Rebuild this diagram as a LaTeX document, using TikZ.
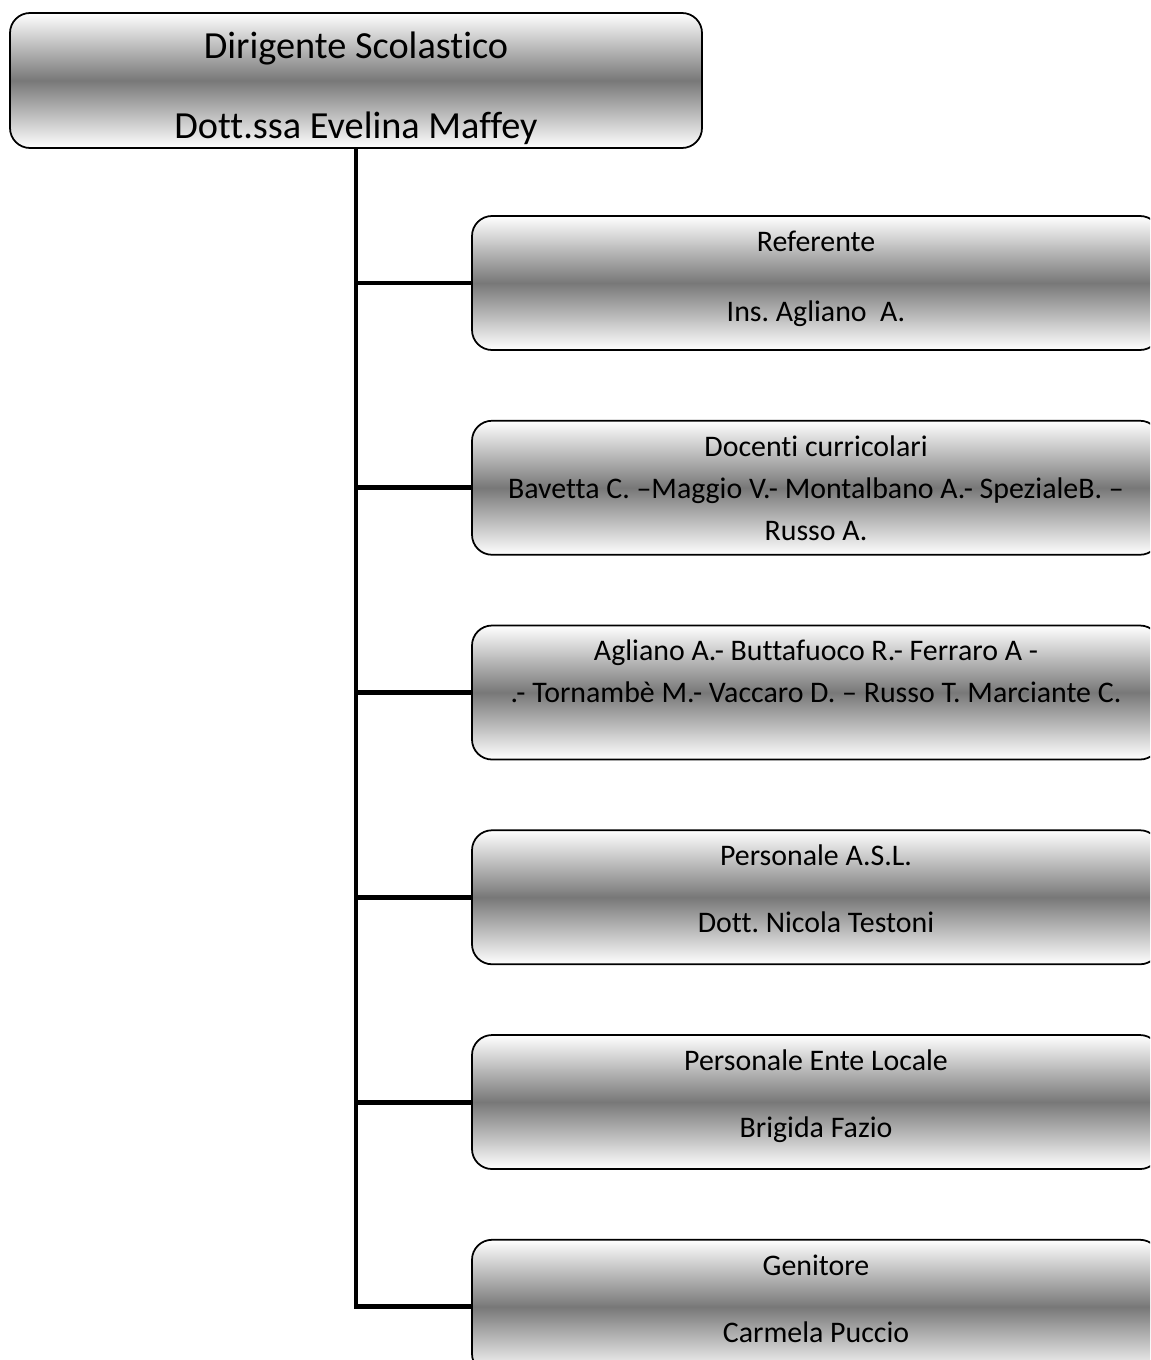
\documentclass[tikz,border=0pt]{standalone}
\usepackage{fontspec}
\setmainfont{Carlito}[Ligatures=NoCommon]
\usetikzlibrary{positioning}
\frenchspacing

\begin{document}
\begin{tikzpicture}[
    boss/.style={
        draw=black,
        line width=1pt,
        rounded corners=0.4cm,
        top color=white,
        bottom color=white,
        middle color=black!53,
        minimum width=13.84cm,
        minimum height=2.7cm
    },
    member/.style={
        boss,
        minimum width=13.76cm,
        minimum height=2.68cm
    },
    bosstext/.style={
        font=\fontsize{21.8}{26}\selectfont,
        anchor=mid,
        inner sep=0pt
    },
    membertext/.style={
        font=\fontsize{17}{21}\selectfont,
        anchor=mid,
        inner sep=0pt
    },
    trunk/.style={
        line width=2.8pt
    }
]

\useasboundingbox (0,0) rectangle (23,-27.2);
\clip (0,0) rectangle (23,-27.2);

\node[boss] (ds) at (7.12,-1.61) {};
\node[bosstext] (ds1) at ([yshift=-0.84cm]ds.north) {Dirigente Scolastico};
\node[bosstext] (ds2) at ([yshift=-2.44cm]ds.north) {Dott.ssa Evelina Maffey};

\node[member] (ref) at (16.32,-5.66) {};
\node[member, below=1.38cm of ref] (doc) {};
\node[member, below=1.38cm of doc] (ins) {};
\node[member, below=1.38cm of ins] (asl) {};
\node[member, below=1.38cm of asl] (ente) {};
\node[member, below=1.38cm of ente] (gen) {};

\node[membertext] (ref1) at ([yshift=-0.64cm]ref.north) {Referente};
\node[membertext] (ref2) at ([yshift=-2.04cm]ref.north) {Ins. Agliano\ \ A.};

\node[membertext] (doc1) at ([yshift=-0.64cm]doc.north) {Docenti curricolari};
\node[membertext] (doc2) at ([yshift=-1.48cm]doc.north) {Bavetta C. –Maggio V.- Montalbano A.- SpezialeB. –};
\node[membertext] (doc3) at ([yshift=-2.32cm]doc.north) {Russo A.};

\node[membertext] (ins1) at ([yshift=-0.64cm]ins.north) {Agliano A.- Buttafuoco R.- Ferraro A -};
\node[membertext] (ins2) at ([yshift=-1.48cm]ins.north) {.- Tornambè M.- Vaccaro D. – Russo T. Marciante C.};

\node[membertext] (asl1) at ([yshift=-0.64cm]asl.north) {Personale A.S.L.};
\node[membertext] (asl2) at ([yshift=-1.98cm]asl.north) {Dott. Nicola Testoni};

\node[membertext] (ente1) at ([yshift=-0.64cm]ente.north) {Personale Ente Locale};
\node[membertext] (ente2) at ([yshift=-1.98cm]ente.north) {Brigida Fazio};

\node[membertext] (gen1) at ([yshift=-0.64cm]gen.north) {Genitore};
\node[membertext] (gen2) at ([yshift=-1.98cm]gen.north) {Carmela Puccio};

% tree lines
\draw[trunk] (ds.south) |- (gen.west);
\draw[trunk] (ds.south |- ref.west) -- (ref.west);
\draw[trunk] (ds.south |- doc.west) -- (doc.west);
\draw[trunk] (ds.south |- ins.west) -- (ins.west);
\draw[trunk] (ds.south |- asl.west) -- (asl.west);
\draw[trunk] (ds.south |- ente.west) -- (ente.west);

\end{tikzpicture}
\end{document}
